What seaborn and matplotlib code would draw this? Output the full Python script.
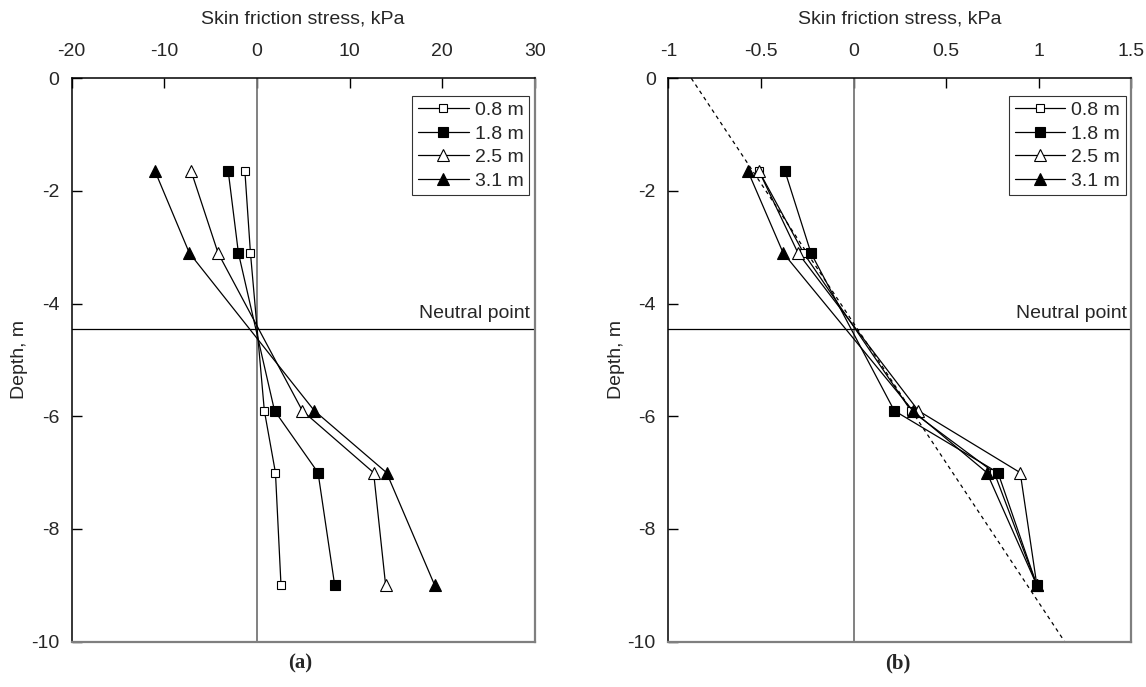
import pandas as pd
import matplotlib
matplotlib.use("Agg")
import matplotlib.pyplot as plt
import seaborn as sns

sns.set_style("ticks")
plt.rcParams['font.family'] = ['Liberation Sans', 'DejaVu Sans']
plt.rcParams['axes.unicode_minus'] = False

# depths of the strain gauges (m)
depth = [-1.65, -3.1, -5.9, -7.0, -9.0]
labels = ["0.8 m", "1.8 m", "2.5 m", "3.1 m"]

# (a) skin friction stress, kPa
stress_a = {
    "0.8 m": [-1.3, -0.7, 0.8, 2.0, 2.6],
    "1.8 m": [-3.1, -2.0, 1.9, 6.6, 8.4],
    "2.5 m": [-7.1, -4.2, 4.9, 12.6, 13.9],
    "3.1 m": [-11.0, -7.3, 6.2, 14.0, 19.2],
}
# (b) normalised skin friction stress
stress_b = {
    "0.8 m": [-0.51, -0.27, 0.31, 0.76, 0.99],
    "1.8 m": [-0.37, -0.23, 0.22, 0.78, 0.99],
    "2.5 m": [-0.51, -0.30, 0.35, 0.90, 0.99],
    "3.1 m": [-0.57, -0.38, 0.32, 0.72, 0.99],
}
# dashed trend line in (b)
trend_x = [-0.876, 1.14]
trend_y = [0.0, -10.0]

neutral_depth = -4.45

marker_style = {
    "0.8 m": ("s", "white", 6),
    "1.8 m": ("s", "black", 6.5),
    "2.5 m": ("^", "white", 8.5),
    "3.1 m": ("^", "black", 8.5),
}

FS = 14

fig = plt.figure(figsize=(11.46, 6.87), dpi=100)
ax_a = fig.add_axes([0.0626, 0.066, 0.404, 0.820])
ax_b = fig.add_axes([0.5832, 0.066, 0.404, 0.820])


def draw_panel(ax, data, xlim, xticks, xticklabels):
    ax.axvline(0, color="#777777", lw=1.3, zorder=1)
    ax.axhline(neutral_depth, color="black", lw=0.9, zorder=1)
    for lab in labels:
        df = pd.DataFrame({"x": data[lab], "y": depth})
        m, fc, ms = marker_style[lab]
        sns.lineplot(data=df, x="x", y="y", ax=ax, sort=False, estimator=None,
                     color="black", lw=0.9, marker=m, markersize=ms,
                     markerfacecolor=fc, markeredgecolor="black",
                     markeredgewidth=0.8, label=lab, zorder=3)
    ax.set_xlim(*xlim)
    ax.set_ylim(-10, 0)
    ax.set_xticks(xticks)
    ax.set_xticklabels(xticklabels)
    ax.set_yticks([0, -2, -4, -6, -8, -10])
    ax.xaxis.tick_top()
    ax.xaxis.set_label_position("top")
    ax.set_xlabel("Skin friction stress, kPa", fontsize=FS, labelpad=14)
    ax.set_ylabel("Depth, m", fontsize=FS, labelpad=2)
    ax.tick_params(axis="both", direction="in", length=7, width=1,
                   labelsize=FS, color="black")
    ax.tick_params(axis="x", pad=13)
    ax.tick_params(axis="y", pad=9)
    for s in ["left", "top"]:
        ax.spines[s].set_color("black")
        ax.spines[s].set_linewidth(1.1)
    for s in ["right", "bottom"]:
        ax.spines[s].set_visible(True)
        ax.spines[s].set_color("#7f7f7f")
        ax.spines[s].set_linewidth(1.6)
    ax.text(xlim[1] - 0.01 * (xlim[1] - xlim[0]), neutral_depth + 0.12,
            "Neutral point", ha="right", va="bottom", fontsize=FS)
    leg = ax.legend(loc="upper right", bbox_to_anchor=(0.988, 0.969),
                    fontsize=FS, frameon=True, fancybox=False,
                    edgecolor="black", handlelength=2.6, handletextpad=0.3,
                    borderaxespad=0.0, labelspacing=0.3, borderpad=0.3)
    leg.get_frame().set_linewidth(0.8)


draw_panel(ax_a, stress_a, (-20, 30), [-20, -10, 0, 10, 20, 30],
           ["-20", "-10", "0", "10", "20", "30"])
draw_panel(ax_b, stress_b, (-1, 1.5), [-1, -0.5, 0, 0.5, 1, 1.5],
           ["-1", "-0.5", "0", "0.5", "1", "1.5"])
ax_b.plot(trend_x, trend_y, color="black", lw=0.9, ls=(0, (3, 3)), zorder=2)
ax_b.set_xlim(-1, 1.5)

fig.text(0.262, 0.034, "(a)", ha="center", va="center", fontsize=15,
         fontweight="bold", family="Liberation Serif")
fig.text(0.783, 0.034, "(b)", ha="center", va="center", fontsize=15,
         fontweight="bold", family="Liberation Serif")

fig.savefig("out.png", dpi=100)
